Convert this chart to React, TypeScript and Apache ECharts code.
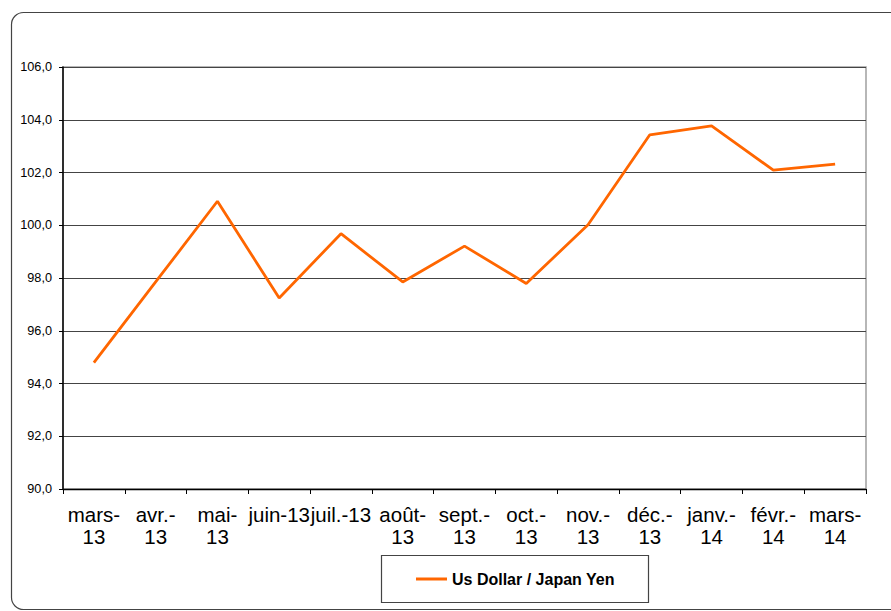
import React, { useEffect, useRef } from "react";
import * as echarts from "echarts";

const categories: string[] = [
  "mars-\n13", "avr.-\n13", "mai-\n13", "juin-13", "juil.-13", "août-\n13",
  "sept.-\n13", "oct.-\n13", "nov.-\n13", "déc.-\n13", "janv.-\n14", "févr.-\n14", "mars-\n14",
];
const usdJpy: number[] = [
  94.79, 97.85, 100.91, 97.24, 99.68, 97.85, 99.21, 97.79, 100.02, 103.43, 103.77, 102.09, 102.32,
];
const seriesName = "Us Dollar / Japan Yen";
const yMin = 90;
const yMax = 106;
const yStep = 2;

export default function App() {
  const ref = useRef<HTMLDivElement>(null);
  useEffect(() => {
    if (!ref.current) return;
    const chart = echarts.init(ref.current, undefined, { renderer: "svg" });
    const font = "'Liberation Sans', Arial, sans-serif";
    chart.setOption({
      animation: false,
      backgroundColor: "#ffffff",
      grid: {
        left: 63,
        right: 25,
        top: 67,
        bottom: 122,
        show: true,
        borderColor: "#a0a0a0",
        borderWidth: 1.5,
        backgroundColor: "transparent",
      },
      xAxis: {
        type: "category",
        data: categories,
        boundaryGap: true,
        axisLine: { show: true, lineStyle: { color: "#000", width: 1.3 } },
        axisTick: { show: true, length: 5, lineStyle: { color: "#000", width: 1 } },
        axisLabel: {
          interval: 0,
          hideOverlap: false,
          color: "#000",
          fontFamily: font,
          fontSize: 20.5,
          lineHeight: 22,
          margin: 14,
        },
        splitLine: { show: false },
      },
      yAxis: {
        type: "value",
        min: yMin,
        max: yMax,
        interval: yStep,
        axisLine: { show: true, lineStyle: { color: "#000", width: 1.5 } },
        axisTick: { show: true, length: 4, lineStyle: { color: "#000", width: 1 } },
        axisLabel: {
          color: "#000",
          fontFamily: font,
          fontSize: 12.7,
          margin: 11,
          formatter: (v: number) => v.toFixed(1).replace(".", ","),
        },
        splitLine: { show: true, lineStyle: { color: "#444", width: 1.2 } },
      },
      legend: {
        data: [{ name: seriesName, icon: "rect" }],
        left: 416,
        top: 571,
        itemWidth: 31,
        itemHeight: 3,
        padding: 0,
        textStyle: {
          color: "#000",
          fontFamily: font,
          fontSize: 16,
          fontWeight: "bold",
        },
      },
      graphic: [
        {
          type: "rect",
          shape: { x: 11.5, y: 12.5, width: 900, height: 597, r: 12 },
          style: { fill: "none", stroke: "#444", lineWidth: 1.2 },
          silent: true,
          z: -1,
        },
        {
          type: "rect",
          shape: { x: 381.5, y: 555.5, width: 267, height: 47 },
          style: { fill: "none", stroke: "#444", lineWidth: 1.2 },
          silent: true,
        },
      ],
      series: [
        {
          name: seriesName,
          type: "line",
          data: usdJpy,
          symbol: "none",
          lineStyle: { color: "#ff6600", width: 2.8 },
          itemStyle: { color: "#ff6600" },
        },
      ],
    });
    return () => chart.dispose();
  }, []);
  return (
    <div
      ref={ref}
      style={{ position: "fixed", left: 0, top: 0, width: 891, height: 611 }}
    />
  );
}
